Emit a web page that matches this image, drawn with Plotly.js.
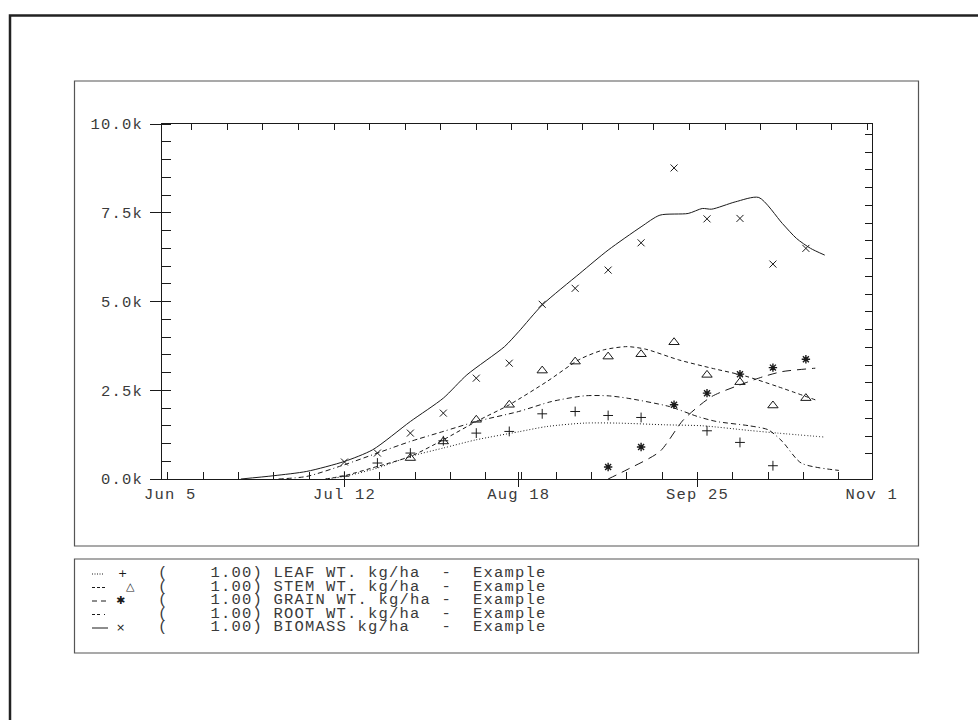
<!DOCTYPE html>
<html><head><meta charset="utf-8">
<script src="https://cdn.plot.ly/plotly-3.0.1.min.js"></script>
<style>
html,body{margin:0;padding:0;background:#fff}
#chart{width:978px;height:720px}
svg text{letter-spacing:1.2px}
</style>
</head><body><div id="chart"></div>
<script>
// ---------- data (kg/ha) ----------
const obsDates = ['2001-07-12','2001-07-19','2001-07-26','2001-08-02','2001-08-09','2001-08-16','2001-08-23','2001-08-30','2001-09-06','2001-09-13','2001-09-20','2001-09-27','2001-10-04','2001-10-11','2001-10-18'];
const leafObs    = [80, 450, 731, 1077, 1293, 1340, 1836, 1901, 1789, 1733, null, 1358, 1030, 374, null];
const stemObs    = [null, null, 590, 1058, 1668, 2090, 3054, 3307, 3448, 3515, 3852, 2933, 2728, 2070, 2278];
const grainObs   = [null, null, null, null, null, null, null, null, 337, 900, 2090, 2418, 2953, 3138, 3374];
const biomassObs = [478, 731, 1293, 1856, 2840, 3262, 4921, 5371, 5885, 6653, 8762, 7328, 7340, 6054, 6496];

const leafSimDates = ['2001-07-08','2001-07-12','2001-07-19','2001-07-26','2001-08-02','2001-08-09','2001-08-18','2001-08-24','2001-09-01','2001-09-08','2001-09-18','2001-09-26','2001-10-06','2001-10-12','2001-10-22'];
const leafSim      = [0, 73, 309, 636, 872, 1105, 1330, 1479, 1575, 1575, 1527, 1499, 1367, 1293, 1181];

const stemSimDates = ['2001-07-08','2001-07-12','2001-07-19','2001-07-26','2001-08-02','2001-08-09','2001-08-16','2001-08-24','2001-08-31','2001-09-05','2001-09-10','2001-09-14','2001-09-21','2001-09-28','2001-10-05','2001-10-12','2001-10-20'];
const stemSim      = [0, 93, 355, 636, 1105, 1620, 2090, 2745, 3374, 3636, 3729, 3656, 3355, 3121, 2905, 2604, 2230];

const grainSimDates = ['2001-09-06','2001-09-10','2001-09-17','2001-09-22','2001-09-28','2001-10-05','2001-10-09','2001-10-13','2001-10-20'];
const grainSim      = [0, 262, 777, 1668, 2323, 2700, 2885, 3026, 3121];

const rootSimDates = ['2001-06-28','2001-07-04','2001-07-12','2001-07-19','2001-07-26','2001-08-02','2001-08-09','2001-08-18','2001-08-25','2001-09-01','2001-09-06','2001-09-10','2001-09-19','2001-09-25','2001-09-29','2001-10-06','2001-10-10','2001-10-13','2001-10-17','2001-10-25'];
const rootSim      = [0, 73, 402, 731, 1058, 1340, 1620, 1901, 2183, 2343, 2343, 2278, 2042, 1760, 1620, 1499, 1386, 1058, 450, 242];

const bioSimDates = ['2001-06-20','2001-06-27','2001-07-04','2001-07-12','2001-07-18','2001-07-26','2001-08-02','2001-08-07','2001-08-15','2001-08-18','2001-08-23','2001-08-31','2001-09-06','2001-09-13','2001-09-17','2001-09-23','2001-09-26','2001-09-28','2001-10-03','2001-10-08','2001-10-13','2001-10-16','2001-10-19','2001-10-22'];
const bioSim      = [0, 93, 214, 495, 824, 1620, 2278, 2933, 3729, 4150, 4900, 5793, 6448, 7103, 7432, 7480, 7620, 7601, 7806, 7930, 7199, 6777, 6496, 6307];

const xTickVals   = ['2001-07-12','2001-08-18','2001-09-25'];
const xTickText   = ['Jul 12','Aug 18','Sep 25'];
const xEndVals    = ['2001-06-05','2001-11-01'];
const xEndText    = ['Jun 5','Nov 1'];
const yTickVals   = [0, 2500, 5000, 7500, 10000];
const yTickText   = ['0.0k','2.5k','5.0k','7.5k','10.0k'];
const legendNames = ['LEAF WT. kg/ha','STEM WT. kg/ha','GRAIN WT. kg/ha','ROOT WT. kg/ha','BIOMASS kg/ha'];
const legendScale = '1.00';
const legendRun   = 'Example';

// ---------- styling ----------
const FONT = 'Liberation Mono, Courier New, monospace';
const INK = '#1a1a1a', TXT = '#3a3a3a';
const FS = 15.5;
const X_RANGE = ['2001-06-03 06:00','2001-11-01 01:00'];
const W = 978, H = 720, L = 162, R = 106, T = 124, B = 241;
const PW = W - L - R, PH = H - T - B;
const px = x => (x - L) / PW;
const py = y => (H - B - y) / PH;

const DASH = {
  leaf: '1px,2px',
  stem: '4px,3px',
  grain: '9px,6px',
  root: '5px,3px,5px,3px,1px,3px',
  bio: 'solid'
};

function simLine(x, y, dash, name) {
  return {x, y, type: 'scatter', mode: 'lines', name, showlegend: false,
    line: {color: INK, width: 1, dash, shape: 'spline', smoothing: 0.7}};
}
function obsMarks(y, symbol, size, lw, name) {
  return {x: obsDates, y, type: 'scatter', mode: 'markers', name, showlegend: false,
    marker: {symbol, size, color: INK, line: {color: INK, width: lw}}};
}

const traces = [
  simLine(leafSimDates, leafSim, DASH.leaf, 'leaf sim'),
  simLine(stemSimDates, stemSim, DASH.stem, 'stem sim'),
  simLine(grainSimDates, grainSim, DASH.grain, 'grain sim'),
  simLine(rootSimDates, rootSim, DASH.root, 'root sim'),
  simLine(bioSimDates, bioSim, DASH.bio, 'biomass sim'),
  obsMarks(leafObs, 'cross-thin-open', 7, 1, 'leaf obs'),
  obsMarks(stemObs, 'triangle-up-open', 9, 1, 'stem obs'),
  obsMarks(grainObs, 'asterisk-open', 7, 1.4, 'grain obs'),
  obsMarks(biomassObs, 'x-thin-open', 7, 1, 'biomass obs'),
  // carriers for decorative tick axes
  {x: [], y: [], type: 'scatter', xaxis: 'x2', yaxis: 'y2', showlegend: false},
  {x: [], y: [], type: 'scatter', xaxis: 'x3', yaxis: 'y3', showlegend: false},
  {x: [], y: [], type: 'scatter', xaxis: 'x4', yaxis: 'y', showlegend: false}
];

const rightTicks = [];
for (let v = 710; v <= 10000; v += 500) rightTicks.push(v);

const tickFont = {family: FONT, size: FS, color: TXT};
const baseX = {type: 'date', range: X_RANGE, showgrid: false, zeroline: false, fixedrange: true};
const baseY = {range: [0, 10000], showgrid: false, zeroline: false, fixedrange: true};

const layout = {
  width: W, height: H,
  margin: {l: L, r: R, t: T, b: B, pad: 0},
  paper_bgcolor: '#fff', plot_bgcolor: '#fff',
  showlegend: false,
  font: {family: FONT, size: FS, color: TXT},
  xaxis: Object.assign({}, baseX, {
    tickmode: 'array', tickvals: xTickVals, ticktext: xTickText,
    ticks: 'outside', ticklen: 7, tickwidth: 1, tickcolor: INK,
    showline: true, linecolor: INK, linewidth: 1, mirror: true,
    tickfont: tickFont, ticklabelstandoff: -7,
    minor: {ticks: 'inside', ticklen: 7, tickwidth: 1, tickcolor: INK,
            tick0: '2001-07-12', dtick: 7.5 * 864e5, showgrid: false}
  }),
  xaxis2: Object.assign({}, baseX, {
    overlaying: 'x', anchor: 'y', side: 'top',
    tickmode: 'linear', tick0: '2001-06-09 14:00', dtick: 7.55 * 864e5,
    ticks: 'inside', ticklen: 6, tickwidth: 1, tickcolor: INK,
    showticklabels: false, showline: false
  }),
  xaxis3: Object.assign({}, baseX, {
    overlaying: 'x', anchor: 'y', side: 'bottom',
    tickmode: 'array', tickvals: xTickVals,
    ticks: 'inside', ticklen: 7, tickwidth: 1, tickcolor: INK,
    showticklabels: false, showline: false
  }),
  xaxis4: Object.assign({}, baseX, {
    overlaying: 'x', anchor: 'y', side: 'bottom',
    tickmode: 'array', tickvals: xEndVals, ticktext: xEndText,
    ticks: 'outside', ticklen: 7, tickcolor: 'rgba(0,0,0,0)',
    tickfont: tickFont, ticklabelstandoff: -7, showline: false
  }),
  yaxis: Object.assign({}, baseY, {
    tickmode: 'array', tickvals: yTickVals, ticktext: yTickText,
    ticks: 'outside', ticklen: 11, tickwidth: 1, tickcolor: INK,
    showline: true, linecolor: INK, linewidth: 1, mirror: true,
    tickfont: tickFont, ticklabelstandoff: 4,
    minor: {ticks: 'inside', ticklen: 9, tickwidth: 1, tickcolor: INK,
            tick0: 0, dtick: 500, showgrid: false}
  }),
  yaxis2: Object.assign({}, baseY, {
    overlaying: 'y', anchor: 'x', side: 'right',
    tickmode: 'array', tickvals: rightTicks,
    ticks: 'inside', ticklen: 7, tickwidth: 1, tickcolor: INK,
    showticklabels: false, showline: false
  }),
  yaxis3: Object.assign({}, baseY, {
    overlaying: 'y', anchor: 'x', side: 'left',
    tickmode: 'array', tickvals: yTickVals,
    ticks: 'inside', ticklen: 9, tickwidth: 1, tickcolor: INK,
    showticklabels: false, showline: false
  }),
  shapes: [],
  annotations: []
};

// frames
layout.shapes.push({type: 'rect', xref: 'paper', yref: 'paper',
  x0: px(10), x1: px(995), y0: py(740), y1: py(15.5),
  line: {color: '#222', width: 2.5}, fillcolor: 'rgba(0,0,0,0)', layer: 'below'});
layout.shapes.push({type: 'rect', xref: 'paper', yref: 'paper',
  x0: px(74.5), x1: px(918.5), y0: py(546), y1: py(81),
  line: {color: '#555', width: 1.2}, fillcolor: 'rgba(0,0,0,0)', layer: 'below'});
layout.shapes.push({type: 'rect', xref: 'paper', yref: 'paper',
  x0: px(74.5), x1: px(918.5), y0: py(653), y1: py(559),
  line: {color: '#555', width: 1.2}, fillcolor: 'rgba(0,0,0,0)', layer: 'below'});

// legend
const NB = '\u00a0';
const legendDash = ['1px,1.5px', '3px,2px', '5px,4px', '3px,2px,3px,4px,1px,20px', 'solid'];
const legendSampleEnd = [103, 105, 106, 113, 108];
const legendGlyph = ['+', '\u25B3', '\u2731', '', '\u00d7'];
const legendGlyphX = [123, 131, 121, 121, 121];
legendNames.forEach((name, i) => {
  const yc = 573 + i * 13.5;
  layout.shapes.push({type: 'line', xref: 'paper', yref: 'paper',
    x0: px(92), x1: px(legendSampleEnd[i]), y0: py(yc + 1), y1: py(yc + 1),
    line: {color: INK, width: 1, dash: legendDash[i]}});
  if (legendGlyph[i]) layout.annotations.push({xref: 'paper', yref: 'paper',
    x: px(legendGlyphX[i]), y: py(yc), xanchor: 'center', yanchor: 'middle',
    text: legendGlyph[i], showarrow: false,
    font: {family: 'DejaVu Sans', size: 11, color: INK}});
  const padded = (name + '                ').slice(0, 16);
  const row = '(    ' + legendScale + ') ' + padded + '-  ' + legendRun;
  layout.annotations.push({xref: 'paper', yref: 'paper',
    x: px(156), y: py(yc), xanchor: 'left', yanchor: 'middle',
    text: row.replace(/ /g, NB), showarrow: false,
    font: {family: FONT, size: FS, color: TXT}});
});

Plotly.newPlot('chart', traces, layout, {staticPlot: true, displayModeBar: false});
</script>
</body></html>
